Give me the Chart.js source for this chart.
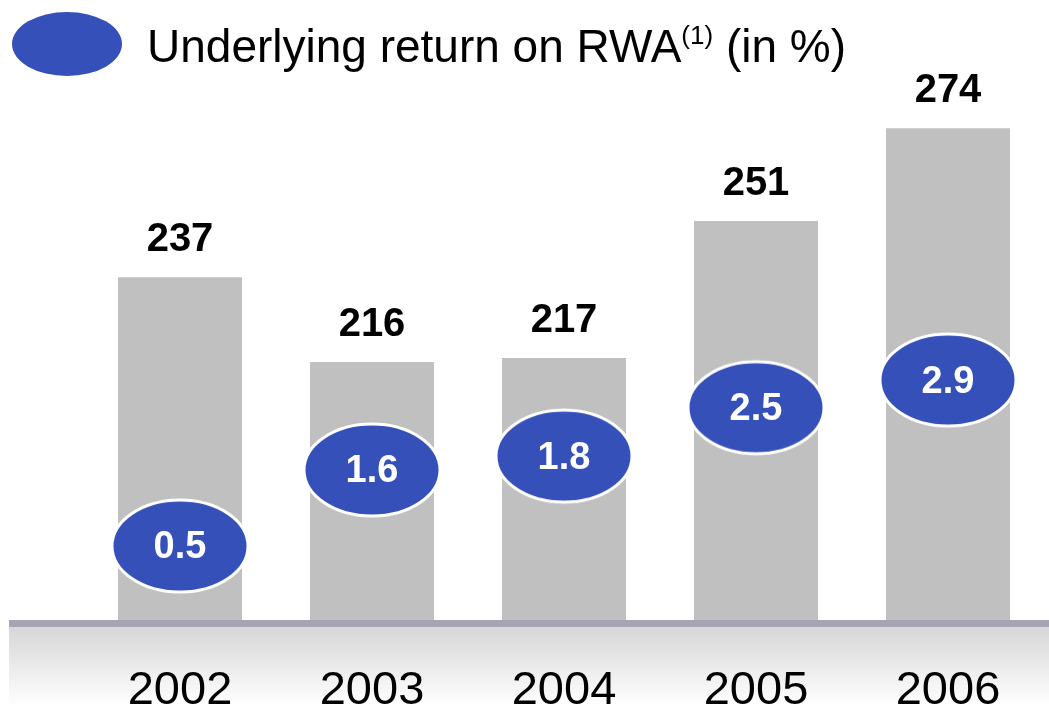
<!DOCTYPE html>
<html>
<head>
<meta charset="utf-8">
<script src="https://cdn.jsdelivr.net/npm/chart.js@4.4.0/dist/chart.umd.min.js"></script>
<style>
  html, body { margin: 0; padding: 0; background: #fff; }
  #wrap { position: relative; width: 1049px; height: 706px; }
  #legend { position: absolute; left: 0; top: 0; font-family: "Liberation Sans", Arial, sans-serif; }
  #legend .dot { position: absolute; left: 12px; top: 12px; width: 110px; height: 64px; border-radius: 50%; background: #3550b9; }
  #legend .txt { position: absolute; left: 147px; top: 18px; font-size: 46px; white-space: nowrap; color: #000; line-height: 56px; }
  #legend sup { font-size: 26px; vertical-align: 0; position: relative; top: -18px; }
</style>
</head>
<body>
<div id="wrap">
  <canvas id="canvas" width="1049" height="706"></canvas>
  <div id="legend"><span class="dot"></span><span class="txt">Underlying return on RWA<sup>(1)</sup> (in %)</span></div>
</div>
<script>
var years = ['2002', '2003', '2004', '2005', '2006'];
var rwa = [237, 216, 217, 251, 274];
var returnOnRwa = [0.5, 1.6, 1.8, 2.5, 2.9];

var blue = '#3550b9';

// ellipse marker used as point style
function makeEllipse(){
    var c = document.createElement('canvas');
    c.width = 142; c.height = 98;
    var ctx = c.getContext('2d');
    ctx.beginPath();
    ctx.ellipse(71, 49, 68, 46, 0, 0, Math.PI * 2);
    ctx.fillStyle = blue;
    ctx.fill();
    ctx.lineWidth = 3;
    ctx.strokeStyle = '#fff';
    ctx.stroke();
    return c;
}

var baseBand = {
    id: 'baseBand',
    beforeDraw: function(chart){
        var ctx = chart.ctx, a = chart.chartArea;
        ctx.save();
        var g = ctx.createLinearGradient(0, a.bottom + 6, 0, chart.height);
        g.addColorStop(0, '#d6d6d6');
        g.addColorStop(1, '#ffffff');
        ctx.fillStyle = g;
        ctx.fillRect(9, a.bottom + 6, chart.width - 9, chart.height - a.bottom - 6);
        ctx.fillStyle = '#a6a6b2';
        ctx.fillRect(9, a.bottom, chart.width - 9, 7);
        ctx.restore();
    }
};

var valueLabels = {
    id: 'valueLabels',
    afterDatasetsDraw: function(chart){
        var ctx = chart.ctx;
        ctx.save();
        ctx.textAlign = 'center';
        ctx.font = 'bold 40px "Liberation Sans", Arial, sans-serif';
        ctx.fillStyle = '#000';
        ctx.textBaseline = 'alphabetic';
        chart.getDatasetMeta(1).data.forEach(function(bar, i){
            ctx.fillText(rwa[i], bar.x, bar.y - 26);
        });
        ctx.font = 'bold 38px "Liberation Sans", Arial, sans-serif';
        ctx.fillStyle = '#fff';
        ctx.textBaseline = 'middle';
        chart.getDatasetMeta(0).data.forEach(function(pt, i){
            ctx.fillText(returnOnRwa[i].toFixed(1), pt.x, pt.y + 2);
        });
        ctx.restore();
    }
};

var chart = new Chart(document.getElementById('canvas').getContext('2d'), {
    data: {
        labels: years,
        datasets: [{
            type: 'line',
            label: 'Underlying return on RWA',
            data: returnOnRwa,
            yAxisID: 'y2',
            showLine: false,
            pointStyle: makeEllipse(),
            order: 0
        }, {
            type: 'bar',
            label: 'RWA',
            data: rwa,
            yAxisID: 'y',
            backgroundColor: '#c0c0c0',
            barPercentage: 0.646,
            categoryPercentage: 1,
            order: 1
        }]
    },
    options: {
        responsive: false,
        animation: false,
        layout: { padding: { left: 84, right: 5, top: 100, bottom: 0 } },
        plugins: {
            legend: { display: false },
            tooltip: { enabled: false }
        },
        scales: {
            x: {
                grid: { display: false, drawTicks: false },
                border: { display: false },
                ticks: {
                    padding: 43,
                    color: '#000',
                    font: { size: 47, family: '"Liberation Sans", Arial, sans-serif' }
                },
                afterFit: function(scale){ scale.height = 86; }
            },
            y: { display: false, min: 152, max: 281 },
            y2: { display: false, min: -0.57, max: 6.95 }
        }
    },
    plugins: [baseBand, valueLabels]
});
</script>
</body>
</html>
